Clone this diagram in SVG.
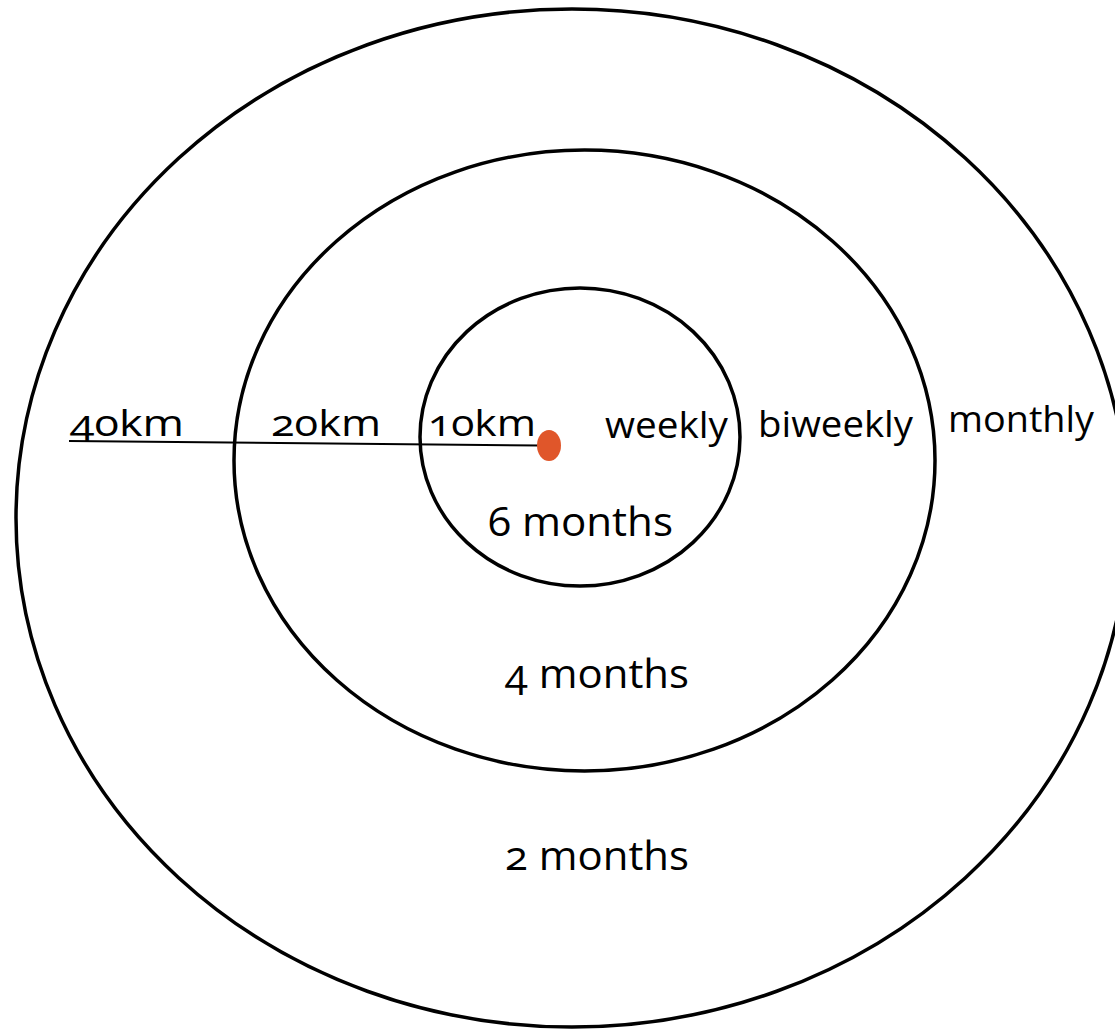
<svg xmlns="http://www.w3.org/2000/svg" width="1115" height="1031" viewBox="0 0 1115 1031">
<style>
.ring{fill:none;stroke:#000;stroke-width:3.5}
.t{font-family:"Open Sans","Liberation Sans",sans-serif;fill:#000;font-variant-numeric:oldstyle-nums;font-feature-settings:"onum" 1}
.s{font-size:37px}
.b{font-size:41px}
</style>
<rect width="1115" height="1031" fill="#fff"/>
<g id="outer-ring"><ellipse class="ring" cx="572" cy="518" rx="556" ry="509"/></g>
<g id="middle-ring"><ellipse class="ring" cx="584.5" cy="460.5" rx="350.5" ry="310.5"/></g>
<g id="inner-ring"><ellipse class="ring" cx="580" cy="437" rx="160" ry="149"/></g>
<g id="connectors"><line x1="69" y1="441" x2="540" y2="445.5" stroke="#000" stroke-width="2"/></g>
<g id="center"><ellipse cx="549" cy="445.5" rx="12" ry="15.5" fill="#E0562A"/></g>
<g id="labels">
<text class="t s" x="70" y="436" textLength="114" lengthAdjust="spacingAndGlyphs">40km</text>
<text class="t s" x="271" y="436" textLength="110" lengthAdjust="spacingAndGlyphs">20km</text>
<text class="t s" x="428" y="436" textLength="108" lengthAdjust="spacingAndGlyphs">10km</text>
<text class="t s" x="605" y="438" textLength="123" lengthAdjust="spacingAndGlyphs">weekly</text>
<text class="t s" x="758" y="437" textLength="155" lengthAdjust="spacingAndGlyphs">biweekly</text>
<text class="t s" x="948" y="432" textLength="146" lengthAdjust="spacingAndGlyphs">monthly</text>
<text class="t b" x="488" y="536" textLength="185" lengthAdjust="spacingAndGlyphs">6 months</text>
<text class="t b" x="505" y="688" textLength="184" lengthAdjust="spacingAndGlyphs">4 months</text>
<text class="t b" x="505" y="870" textLength="184" lengthAdjust="spacingAndGlyphs">2 months</text>
</g>
</svg>
